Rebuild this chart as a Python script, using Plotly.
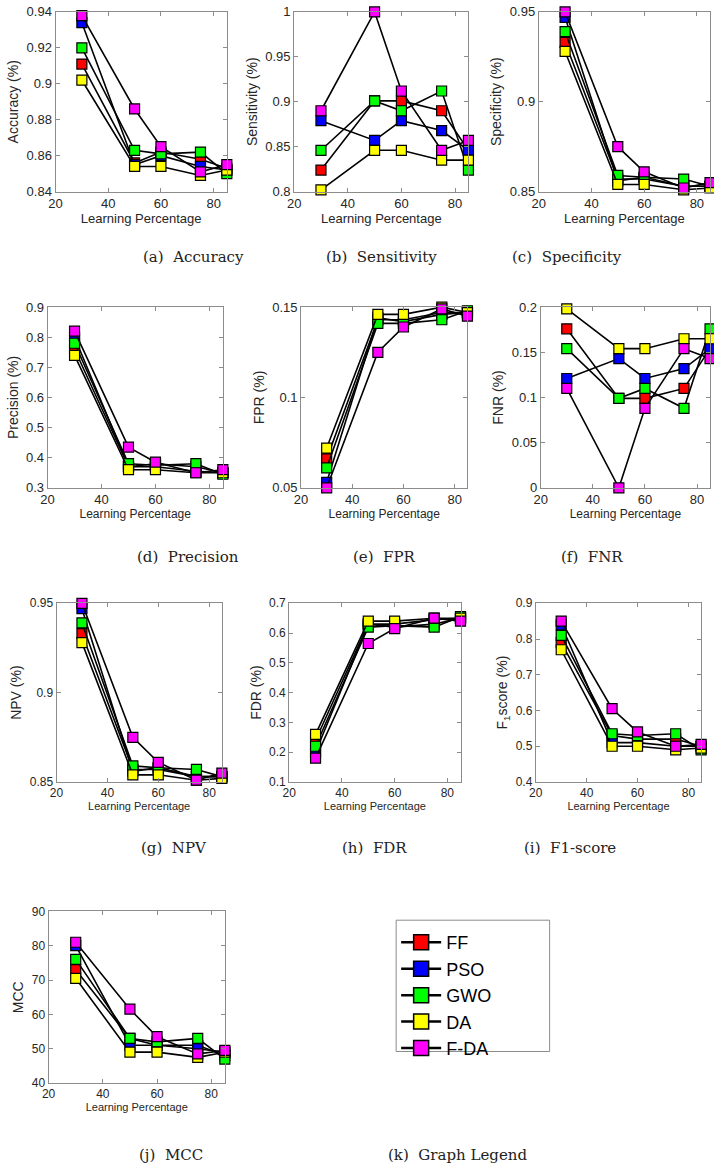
import plotly.graph_objects as go

W, H = 714, 1175

learning = [30, 50, 60, 75, 85]
methods = ["FF", "PSO", "GWO", "DA", "F-DA"]
colors = ["#ff0000", "#0000ff", "#00ff00", "#ffff00", "#ff00ff"]

accuracy = {
    "FF": [0.911, 0.856, 0.862, 0.858, 0.853],
    "PSO": [0.934, 0.855, 0.860, 0.854, 0.852],
    "GWO": [0.920, 0.863, 0.861, 0.862, 0.850],
    "DA": [0.902, 0.854, 0.854, 0.849, 0.852],
    "F-DA": [0.938, 0.886, 0.865, 0.851, 0.855],
}
sensitivity = {
    "FF": [0.824, 0.901, 0.901, 0.890, 0.846],
    "PSO": [0.879, 0.857, 0.879, 0.868, 0.846],
    "GWO": [0.846, 0.901, 0.890, 0.912, 0.824],
    "DA": [0.802, 0.846, 0.846, 0.835, 0.835],
    "F-DA": [0.890, 1.000, 0.912, 0.846, 0.857],
}
specificity = {
    "FF": [0.933, 0.857, 0.857, 0.853, 0.853],
    "PSO": [0.947, 0.856, 0.858, 0.853, 0.853],
    "GWO": [0.939, 0.859, 0.858, 0.857, 0.853],
    "DA": [0.928, 0.854, 0.854, 0.851, 0.852],
    "F-DA": [0.950, 0.875, 0.861, 0.852, 0.855],
}
precision = {
    "FF": [0.76, 0.37, 0.38, 0.37, 0.35],
    "PSO": [0.80, 0.37, 0.37, 0.355, 0.35],
    "GWO": [0.78, 0.38, 0.375, 0.38, 0.345],
    "DA": [0.74, 0.36, 0.36, 0.35, 0.35],
    "F-DA": [0.82, 0.435, 0.385, 0.35, 0.36],
}
fpr = {
    "FF": [0.066, 0.143, 0.143, 0.147, 0.147],
    "PSO": [0.053, 0.144, 0.142, 0.146, 0.147],
    "GWO": [0.061, 0.141, 0.141, 0.143, 0.148],
    "DA": [0.072, 0.146, 0.146, 0.150, 0.147],
    "F-DA": [0.050, 0.125, 0.139, 0.149, 0.145],
}
fnr = {
    "FF": [0.176, 0.099, 0.099, 0.110, 0.154],
    "PSO": [0.121, 0.143, 0.121, 0.132, 0.154],
    "GWO": [0.154, 0.099, 0.110, 0.088, 0.176],
    "DA": [0.198, 0.154, 0.154, 0.165, 0.165],
    "F-DA": [0.110, 0.000, 0.088, 0.154, 0.143],
}
npv = {
    "FF": [0.933, 0.857, 0.857, 0.853, 0.853],
    "PSO": [0.947, 0.856, 0.858, 0.853, 0.853],
    "GWO": [0.939, 0.859, 0.858, 0.857, 0.853],
    "DA": [0.928, 0.854, 0.854, 0.851, 0.852],
    "F-DA": [0.950, 0.875, 0.861, 0.851, 0.855],
}
fdr = {
    "FF": [0.24, 0.63, 0.62, 0.63, 0.65],
    "PSO": [0.20, 0.63, 0.63, 0.645, 0.65],
    "GWO": [0.22, 0.62, 0.625, 0.62, 0.655],
    "DA": [0.26, 0.64, 0.64, 0.65, 0.65],
    "F-DA": [0.18, 0.565, 0.615, 0.65, 0.64],
}
f1score = {
    "FF": [0.79, 0.53, 0.52, 0.52, 0.50],
    "PSO": [0.84, 0.51, 0.51, 0.50, 0.50],
    "GWO": [0.81, 0.535, 0.53, 0.535, 0.49],
    "DA": [0.77, 0.50, 0.50, 0.49, 0.495],
    "F-DA": [0.85, 0.605, 0.54, 0.50, 0.505],
}
mcc = {
    "FF": [73, 53, 51, 51, 48],
    "PSO": [80, 51, 51, 50, 49],
    "GWO": [76, 53, 52, 53, 47],
    "DA": [70.5, 49, 49, 47.5, 49],
    "F-DA": [81, 61.5, 53.5, 48.5, 49.5],
}

# (data, y title, caption, y range, y ticks, box px [left, top, right, bottom])
panels = [
    (accuracy, "Accuracy (%)", "(a)  Accuracy", [0.84, 0.94], [0.84, 0.86, 0.88, 0.9, 0.92, 0.94], [49, 5, 222, 187]),
    (sensitivity, "Sensitivity (%)", "(b)  Sensitivity", [0.8, 1.0], [0.8, 0.85, 0.9, 0.95, 1], [290, 5, 466, 187]),
    (specificity, "Specificity (%)", "(c)  Specificity", [0.85, 0.95], [0.85, 0.9, 0.95], [537, 5, 710, 187]),
    (precision, "Precision (%)", "(d)  Precision", [0.3, 0.9], [0.3, 0.4, 0.5, 0.6, 0.7, 0.8, 0.9], [41, 304, 218, 487]),
    (fpr, "FPR (%)", "(e)  FPR", [0.05, 0.15], [0.05, 0.1, 0.15], [297, 304, 465, 487]),
    (fnr, "FNR (%)", "(f)  FNR", [0, 0.2], [0, 0.05, 0.1, 0.15, 0.2], [539, 304, 710, 487]),
    (npv, "NPV (%)", "(g)  NPV", [0.85, 0.95], [0.85, 0.9, 0.95], [50, 604, 217, 785]),
    (fdr, "FDR (%)", "(h)  FDR", [0.1, 0.7], [0.1, 0.2, 0.3, 0.4, 0.5, 0.6, 0.7], [285, 604, 458, 785]),
    (f1score, "F<sub>1</sub>score (%)", "(i)  F1-score", [0.4, 0.9], [0.4, 0.5, 0.6, 0.7, 0.8, 0.9], [534, 604, 701, 785]),
    (mcc, "MCC", "(j)  MCC", [40, 90], [40, 50, 60, 70, 80, 90], [42, 916, 220, 1090]),
]
caption_y = [253, 253, 253, 557, 557, 557, 852, 852, 852, 1163]
tick_size = [13, 13, 13, 13, 13, 13, 12, 12, 12, 12]
xtitle_size = [13, 13, 13, 12, 12, 12, 11, 11, 11, 11]

fig = go.Figure()
layout = {}
annotations = []
sans = "Liberation Sans, Arial, sans-serif"
serif = "DejaVu Serif, serif"

for i, (data, ytitle, caption, yr, yt, box) in enumerate(panels):
    n = "" if i == 0 else str(i + 1)
    l, t, r, b = box
    axis_style = dict(
        showgrid=False, zeroline=False, showline=True, linecolor="#8c8c8c",
        linewidth=1, mirror="ticks", ticks="inside", ticklen=4, tickcolor="#8c8c8c",
        tickfont=dict(family=sans, size=tick_size[i], color="#262626"),
    )
    layout["xaxis" + n] = dict(
        axis_style, domain=[l / W, r / W], anchor="y" + n, range=[20, 85],
        tickvals=[20, 40, 60, 80],
        title=dict(text="Learning Percentage", standoff=2,
                   font=dict(family=sans, size=xtitle_size[i], color="#262626")),
    )
    layout["yaxis" + n] = dict(
        axis_style, domain=[1 - b / H, 1 - t / H], anchor="x" + n, range=yr,
        tickvals=yt,
        title=dict(text=ytitle, standoff=4,
                   font=dict(family=sans, size=14, color="#262626")),
    )
    for m, c in zip(methods, colors):
        fig.add_trace(go.Scatter(
            x=learning, y=data[m], name=m, mode="lines+markers",
            xaxis="x" + n, yaxis="y" + n, cliponaxis=False,
            line=dict(color="black", width=1.6),
            marker=dict(symbol="square", size=10, color=c,
                        line=dict(color="black", width=1.2)),
            showlegend=False,
        ))
    annotations.append(dict(
        text=caption, x=(l + r) / 2 / W, y=1 - caption_y[i] / H,
        xref="paper", yref="paper", showarrow=False, yanchor="middle",
        font=dict(family=serif, size=15, color="#222222"),
    ))

# legend entries (k): bigger symbols, as in the separate legend panel
for m, c in zip(methods, colors):
    fig.add_trace(go.Scatter(
        x=[None], y=[None], name=m, mode="lines+markers",
        line=dict(color="black", width=2.5),
        marker=dict(symbol="square", size=15, color=c,
                    line=dict(color="black", width=1.5)),
    ))

annotations.append(dict(
    text="(k)  Graph Legend", x=455 / W, y=1 - 1163 / H,
    xref="paper", yref="paper", showarrow=False, yanchor="middle",
    font=dict(family=serif, size=15, color="#222222"),
))

fig.update_layout(
    width=W, height=H,
    margin=dict(l=0, r=0, t=0, b=0),
    paper_bgcolor="white", plot_bgcolor="white",
    annotations=annotations,
    shapes=[dict(type="rect", xref="paper", yref="paper",
                 x0=393 / W, x1=548 / W, y0=1 - 1058 / H, y1=1 - 925 / H,
                 line=dict(color="#8c8c8c", width=1), fillcolor="rgba(0,0,0,0)")],
    legend=dict(
        x=393 / W, y=1 - 929 / H, xanchor="left", yanchor="top",
        borderwidth=0, bgcolor="rgba(0,0,0,0)",
        font=dict(family=sans, size=18, color="black"),
        itemwidth=40, tracegroupgap=0,
    ),
    **layout,
)

fig.write_html("out.html", config={"displayModeBar": False},
               post_script="document.body.style.margin='0';")
